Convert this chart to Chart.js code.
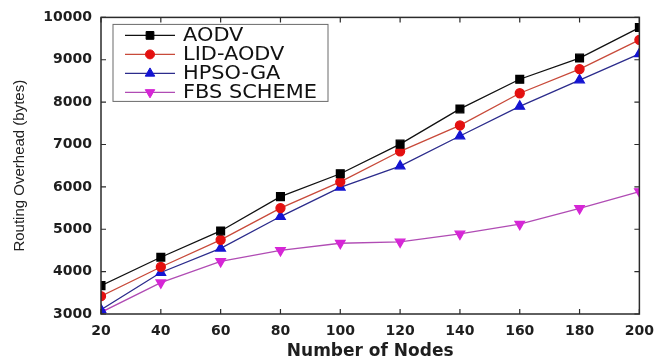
<!DOCTYPE html>
<html>
<head>
<meta charset="utf-8">
<script src="https://cdn.jsdelivr.net/npm/chart.js@4.4.1/dist/chart.umd.min.js"></script>
<style>
  html, body { margin: 0; padding: 0; background: #fff; }
  #wrap { width: 663px; height: 362px; }
</style>
</head>
<body>
<div id="wrap"><canvas id="chart"></canvas></div>
<script>
const nodes = [20, 40, 60, 80, 100, 120, 140, 160, 180, 200];
const aodv = [3670, 4340, 4960, 5770, 6310, 7010, 7840, 8540, 9040, 9760];
const lidAodv = [3420, 4110, 4750, 5500, 6120, 6840, 7450, 8210, 8780, 9470];
const hpsoGa = [3100, 3980, 4550, 5300, 5990, 6490, 7200, 7900, 8520, 9140];
const fbsScheme = [3040, 3740, 4240, 4500, 4670, 4700, 4890, 5120, 5490, 5890];

const AXIS_COLOR = '#2b2b2b';

function points(values) {
  return values.map((v, i) => ({ x: nodes[i], y: v }));
}

// box round the plot, with ticks pointing inward on all four sides
const frameTicksPlugin = {
  id: 'frameTicks',
  afterDraw(chart) {
    const { ctx, chartArea: a, scales } = chart;
    ctx.save();
    ctx.strokeStyle = AXIS_COLOR;
    ctx.lineWidth = 1.5;
    ctx.strokeRect(a.left, a.top, a.right - a.left, a.bottom - a.top);
    ctx.lineWidth = 1.2;
    ctx.beginPath();
    scales.x.ticks.forEach((t, i) => {
      const x = scales.x.getPixelForTick(i);
      ctx.moveTo(x, a.bottom); ctx.lineTo(x, a.bottom - 5);
      ctx.moveTo(x, a.top); ctx.lineTo(x, a.top + 5);
    });
    scales.y.ticks.forEach((t, i) => {
      const y = scales.y.getPixelForTick(i);
      ctx.moveTo(a.left, y); ctx.lineTo(a.left + 5, y);
      ctx.moveTo(a.right, y); ctx.lineTo(a.right - 5, y);
    });
    ctx.stroke();
    ctx.restore();
  },
};

// boxed legend in the top-left corner, line + marker samples
const boxLegendPlugin = {
  id: 'boxLegend',
  afterDraw(chart) {
    const { ctx, chartArea: a } = chart;
    const x0 = a.left + 12, y0 = a.top + 7;
    const w = 215, h = 77, rowH = 19;
    ctx.save();
    ctx.strokeStyle = '#6a6a6a';
    ctx.lineWidth = 1;
    ctx.strokeRect(x0, y0, w, h);
    ctx.font = '19px "DejaVu Sans"';
    ctx.textBaseline = 'middle';
    chart.data.datasets.forEach((ds, i) => {
      const y = y0 + 11 + i * rowH;
      ctx.strokeStyle = ds.borderColor;
      ctx.lineWidth = ds.borderWidth;
      ctx.beginPath();
      ctx.moveTo(x0 + 12, y);
      ctx.lineTo(x0 + 62, y);
      ctx.stroke();
      ctx.fillStyle = ds.pointBackgroundColor;
      ctx.strokeStyle = ds.pointBorderColor;
      ctx.lineWidth = 1;
      Chart.helpers.drawPoint(ctx, {
        pointStyle: ds.pointStyle,
        radius: ds.pointRadius,
        rotation: ds.pointRotation || 0,
        borderWidth: 1,
      }, x0 + 37, y);
      ctx.fillStyle = '#111';
      ctx.save();
      ctx.scale(1.1, 1);
      ctx.fillText(ds.label, (x0 + 70) / 1.1, y + 1);
      ctx.restore();
    });
    ctx.restore();
  },
};

function series(label, values, lineColor, markColor, style, radius, rotation) {
  return {
    label,
    data: points(values),
    borderColor: lineColor,
    backgroundColor: markColor,
    pointBackgroundColor: markColor,
    pointBorderColor: markColor,
    pointStyle: style,
    pointRadius: radius,
    pointRotation: rotation,
    borderWidth: 1.3,
    tension: 0,
  };
}

new Chart(document.getElementById('chart'), {
  type: 'line',
  plugins: [frameTicksPlugin, boxLegendPlugin],
  data: {
    datasets: [
      series('AODV', aodv, '#111111', '#000000', 'rect', 5.5, 0),
      series('LID-AODV', lidAodv, '#c84a3a', '#e41010', 'circle', 4.5, 0),
      series('HPSO-GA', hpsoGa, '#2c2c8c', '#1414d2', 'triangle', 5.5, 0),
      series('FBS SCHEME', fbsScheme, '#b04cb4', '#d626d6', 'triangle', 5.5, 180),
    ],
  },
  options: {
    responsive: true,
    maintainAspectRatio: false,
    animation: false,
    layout: { padding: { left: 0, top: 13, right: 14, bottom: 0 } },
    plugins: {
      legend: { display: false },
      tooltip: { enabled: false },
    },
    scales: {
      x: {
        type: 'linear',
        min: 20,
        max: 200,
        afterFit(scale) { scale.height = 48; },
        afterBuildTicks(scale) { scale.ticks = nodes.map((v) => ({ value: v })); },
        grid: { drawOnChartArea: false, drawTicks: false },
        border: { display: false },
        ticks: {
          color: '#1e1e1e',
          padding: 9,
          maxRotation: 0,
          autoSkip: false,
          callback: (v) => String(v),
          font: { family: 'DejaVu Sans', size: 14, weight: 'bold' },
        },
        title: {
          display: true,
          text: 'Number of Nodes',
          color: '#1e1e1e',
          padding: { top: 4, bottom: 0 },
          font: { family: 'DejaVu Sans', size: 17, weight: 'bold' },
        },
      },
      y: {
        type: 'linear',
        min: 3000,
        max: 10000,
        afterFit(scale) { scale.width = 101; },
        grid: { drawOnChartArea: false, drawTicks: false },
        border: { display: false },
        ticks: {
          stepSize: 1000,
          color: '#1e1e1e',
          padding: 9,
          callback: (v) => String(v),
          font: { family: 'DejaVu Sans', size: 14, weight: 'bold' },
        },
        title: {
          display: true,
          text: 'Routing Overhead (bytes)',
          color: '#222',
          padding: { top: 11, bottom: 0 },
          font: { family: 'Liberation Sans', size: 15 },
        },
      },
    },
  },
});
</script>
</body>
</html>
